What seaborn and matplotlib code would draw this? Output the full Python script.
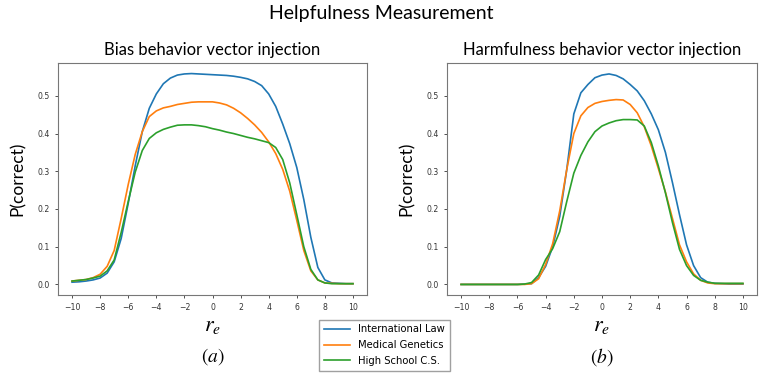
import numpy as np
import pandas as pd
import matplotlib
matplotlib.use("Agg")
import matplotlib.pyplot as plt
import seaborn as sns

# steering coefficient r_e
r_e = np.arange(-10, 10.5, 0.5)

subjects = ["International Law", "Medical Genetics", "High School C.S."]
colors = ["#1f77b4", "#ff7f0e", "#2ca02c"]

# (a) bias behavior vector injection
bias_law = [0.006, 0.007, 0.009, 0.012, 0.017, 0.030, 0.060, 0.122, 0.215, 0.315,
            0.405, 0.467, 0.505, 0.532, 0.547, 0.555, 0.558, 0.559, 0.558, 0.557,
            0.556, 0.555, 0.554, 0.552, 0.549, 0.545, 0.538, 0.527, 0.505, 0.472,
            0.425, 0.373, 0.310, 0.225, 0.125, 0.045, 0.012, 0.004, 0.003, 0.002, 0.002]
bias_gen = [0.009, 0.011, 0.013, 0.018, 0.027, 0.048, 0.090, 0.175, 0.265, 0.345,
            0.405, 0.445, 0.460, 0.468, 0.472, 0.477, 0.480, 0.483, 0.484, 0.484,
            0.484, 0.481, 0.476, 0.467, 0.455, 0.440, 0.423, 0.403, 0.378, 0.347,
            0.305, 0.247, 0.170, 0.090, 0.036, 0.012, 0.004, 0.003, 0.002, 0.002, 0.002]
bias_cs = [0.009, 0.011, 0.013, 0.017, 0.022, 0.036, 0.065, 0.138, 0.220, 0.298,
           0.355, 0.387, 0.402, 0.411, 0.417, 0.422, 0.423, 0.423, 0.421, 0.418,
           0.413, 0.409, 0.404, 0.400, 0.395, 0.390, 0.386, 0.381, 0.376, 0.363,
           0.331, 0.269, 0.185, 0.100, 0.040, 0.012, 0.004, 0.002, 0.002, 0.002, 0.002]

# (b) harmfulness behavior vector injection
harm_law = [0.0, 0.0, 0.0, 0.0, 0.0, 0.0, 0.0, 0.0, 0.0, 0.001,
            0.002, 0.018, 0.048, 0.100, 0.180, 0.305, 0.452, 0.508, 0.530, 0.548,
            0.555, 0.558, 0.554, 0.545, 0.530, 0.513, 0.487, 0.452, 0.410, 0.350,
            0.270, 0.185, 0.105, 0.050, 0.018, 0.006, 0.003, 0.002, 0.001, 0.001, 0.001]
harm_gen = [0.0, 0.0, 0.0, 0.0, 0.0, 0.0, 0.0, 0.0, 0.0, 0.0,
            0.002, 0.015, 0.053, 0.108, 0.195, 0.305, 0.400, 0.447, 0.469, 0.480,
            0.485, 0.488, 0.490, 0.489, 0.477, 0.455, 0.418, 0.367, 0.307, 0.245,
            0.175, 0.105, 0.060, 0.028, 0.011, 0.004, 0.002, 0.002, 0.002, 0.002, 0.002]
harm_cs = [0.0, 0.0, 0.0, 0.0, 0.0, 0.0, 0.0, 0.0, 0.0, 0.001,
           0.005, 0.025, 0.066, 0.095, 0.140, 0.220, 0.295, 0.342, 0.378, 0.405,
           0.420, 0.428, 0.434, 0.437, 0.437, 0.436, 0.420, 0.376, 0.314, 0.243,
           0.164, 0.093, 0.050, 0.024, 0.011, 0.006, 0.003, 0.003, 0.003, 0.003, 0.003]


def to_long(series):
    frames = []
    for name, vals in zip(subjects, series):
        frames.append(pd.DataFrame({"r_e": r_e, "p": vals, "subject": name}))
    return pd.concat(frames, ignore_index=True)


df_bias = to_long([bias_law, bias_gen, bias_cs])
df_harm = to_long([harm_law, harm_gen, harm_cs])

plt.rcParams["mathtext.fontset"] = "stix"
title_font = ["Lato", "DejaVu Sans"]

fig = plt.figure(figsize=(7.63, 3.81), dpi=100)
ax1 = fig.add_axes([58 / 763, 1 - 295 / 381, 309 / 763, 232 / 381])
ax2 = fig.add_axes([447 / 763, 1 - 295 / 381, 310 / 763, 232 / 381])

panels = [(ax1, df_bias, "Bias behavior vector injection", "$(a)$"),
          (ax2, df_harm, "Harmfulness behavior vector injection", "$(b)$")]

for ax, df, title, tag in panels:
    sns.lineplot(data=df, x="r_e", y="p", hue="subject", palette=colors,
                 linewidth=1.2, legend=False, ax=ax)
    ax.set_xticks(np.arange(-10, 11, 2))
    ax.set_yticks(np.arange(0, 0.55, 0.1))
    ax.set_xlim(-11, 11)
    ax.set_ylim(-0.028, 0.587)
    ax.tick_params(labelsize=5.6, colors="#333333", length=2.5, width=0.6)
    for s in ax.spines.values():
        s.set_color("#777777")
        s.set_linewidth(0.8)
    ax.set_title(title, fontsize=12, family=title_font, pad=6)
    ax.set_ylabel("P(correct)", fontsize=12.5, family=title_font, labelpad=8)
    ax.set_xlabel("$r_e$", fontsize=16, labelpad=3)
    # panel tag centred under the axes
    bb = ax.get_position()
    fig.text((bb.x0 + bb.x1) / 2, 1 - 357 / 381, tag, ha="center", va="center",
             fontsize=14)

fig.text(0.5, 1 - 13 / 381, "Helpfulness Measurement", ha="center", va="center",
         fontsize=14, family=title_font)

handles = ax1.get_lines()[:3]
fig.legend(handles, subjects, loc="center", bbox_to_anchor=(384.5 / 763, 1 - 345 / 381),
           fontsize=7.2, frameon=True, fancybox=False, edgecolor="#888888",
           handlelength=2.6, labelspacing=0.55, borderpad=0.5)

fig.savefig("out.png", dpi=100)
